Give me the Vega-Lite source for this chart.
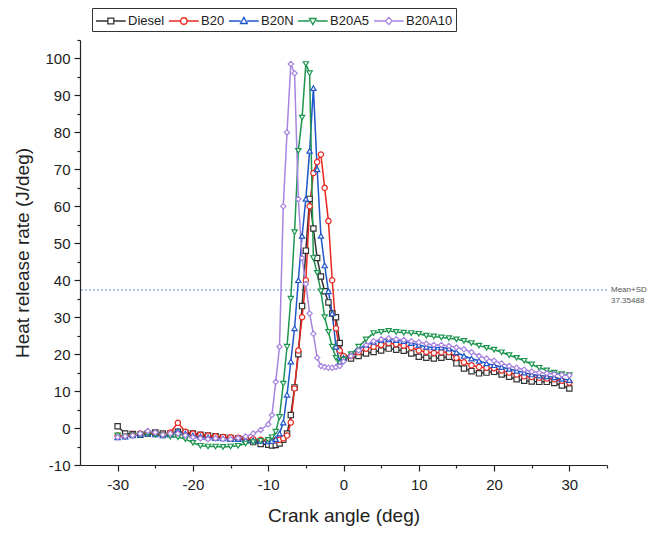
{
  "$schema": "https://vega.github.io/schema/vega-lite/v6.json",
  "width": 527,
  "height": 425,
  "autosize": "none",
  "padding": {"left": 80, "top": 40, "right": 43, "bottom": 71},
  "background": "white",
  "config": {
    "font": "Liberation Sans",
    "view": {"stroke": null},
    "axis": {"grid": false, "domainColor": "#222", "tickColor": "#222", "labelColor": "#222", "titleColor": "#222", "labelFont": "Liberation Sans", "titleFont": "Liberation Sans", "titleFontWeight": "normal", "domainWidth": 1.2, "tickWidth": 1.2},
    "point": {"filled": false, "fill": "white", "size": 28, "strokeWidth": 1.2, "opacity": 1}
  },
  "datasets": {
    "hrr": [
      {"fuel":"Diesel","angle":-30,"hrr":0.5},{"fuel":"Diesel","angle":-29,"hrr":-1.5},{"fuel":"Diesel","angle":-28,"hrr":-1.6},{"fuel":"Diesel","angle":-27,"hrr":-1.8},{"fuel":"Diesel","angle":-26,"hrr":-1.5},{"fuel":"Diesel","angle":-25,"hrr":-1.2},{"fuel":"Diesel","angle":-24,"hrr":-1.5},{"fuel":"Diesel","angle":-23,"hrr":-1.5},{"fuel":"Diesel","angle":-22,"hrr":-1.0},{"fuel":"Diesel","angle":-21,"hrr":-1.3},{"fuel":"Diesel","angle":-20,"hrr":-1.5},{"fuel":"Diesel","angle":-19,"hrr":-1.8},{"fuel":"Diesel","angle":-18,"hrr":-2.0},{"fuel":"Diesel","angle":-17,"hrr":-2.2},{"fuel":"Diesel","angle":-16,"hrr":-2.5},{"fuel":"Diesel","angle":-15,"hrr":-2.7},{"fuel":"Diesel","angle":-14,"hrr":-2.8},{"fuel":"Diesel","angle":-13,"hrr":-3.0},{"fuel":"Diesel","angle":-12,"hrr":-3.8},{"fuel":"Diesel","angle":-11,"hrr":-4.3},
      {"fuel":"Diesel","angle":-10,"hrr":-4.5},{"fuel":"Diesel","angle":-9.5,"hrr":-4.7},{"fuel":"Diesel","angle":-9,"hrr":-4.6},{"fuel":"Diesel","angle":-8.5,"hrr":-4.2},{"fuel":"Diesel","angle":-8,"hrr":-3.2},{"fuel":"Diesel","angle":-7.5,"hrr":-1.5},{"fuel":"Diesel","angle":-7,"hrr":3.5},{"fuel":"Diesel","angle":-6.5,"hrr":11},{"fuel":"Diesel","angle":-6,"hrr":20},{"fuel":"Diesel","angle":-5.5,"hrr":33},{"fuel":"Diesel","angle":-5,"hrr":48},{"fuel":"Diesel","angle":-4.5,"hrr":62},{"fuel":"Diesel","angle":-4,"hrr":54},{"fuel":"Diesel","angle":-3.5,"hrr":46},{"fuel":"Diesel","angle":-3,"hrr":41},{"fuel":"Diesel","angle":-2.5,"hrr":37},{"fuel":"Diesel","angle":-2,"hrr":34},{"fuel":"Diesel","angle":-1.5,"hrr":31},{"fuel":"Diesel","angle":-1,"hrr":30},{"fuel":"Diesel","angle":-0.5,"hrr":23},
      {"fuel":"Diesel","angle":0,"hrr":19},{"fuel":"Diesel","angle":1,"hrr":18.8},{"fuel":"Diesel","angle":2,"hrr":19.5},{"fuel":"Diesel","angle":3,"hrr":20.2},{"fuel":"Diesel","angle":4,"hrr":20.6},{"fuel":"Diesel","angle":5,"hrr":21},{"fuel":"Diesel","angle":6,"hrr":21.5},{"fuel":"Diesel","angle":7,"hrr":21.2},{"fuel":"Diesel","angle":8,"hrr":20.9},{"fuel":"Diesel","angle":9,"hrr":20.2},{"fuel":"Diesel","angle":10,"hrr":19.3},{"fuel":"Diesel","angle":11,"hrr":19},{"fuel":"Diesel","angle":12,"hrr":18.8},{"fuel":"Diesel","angle":13,"hrr":19},{"fuel":"Diesel","angle":14,"hrr":19.3},{"fuel":"Diesel","angle":15,"hrr":17.5},{"fuel":"Diesel","angle":16,"hrr":16.1},{"fuel":"Diesel","angle":17,"hrr":15.4},{"fuel":"Diesel","angle":18,"hrr":14.8},{"fuel":"Diesel","angle":19,"hrr":15},{"fuel":"Diesel","angle":20,"hrr":15.2},{"fuel":"Diesel","angle":21,"hrr":14.5},{"fuel":"Diesel","angle":22,"hrr":13.9},{"fuel":"Diesel","angle":23,"hrr":13.2},{"fuel":"Diesel","angle":24,"hrr":12.8},{"fuel":"Diesel","angle":25,"hrr":12.6},{"fuel":"Diesel","angle":26,"hrr":12.5},{"fuel":"Diesel","angle":27,"hrr":12.5},{"fuel":"Diesel","angle":28,"hrr":12.2},{"fuel":"Diesel","angle":29,"hrr":11.5},{"fuel":"Diesel","angle":30,"hrr":10.7},

      {"fuel":"B20","angle":-30,"hrr":-2.0},{"fuel":"B20","angle":-29,"hrr":-2.2},{"fuel":"B20","angle":-28,"hrr":-1.8},{"fuel":"B20","angle":-27,"hrr":-1.5},{"fuel":"B20","angle":-26,"hrr":-1.2},{"fuel":"B20","angle":-25,"hrr":-1.5},{"fuel":"B20","angle":-24,"hrr":-1.8},{"fuel":"B20","angle":-23,"hrr":-1.2},{"fuel":"B20","angle":-22,"hrr":1.4},{"fuel":"B20","angle":-21,"hrr":-1.0},{"fuel":"B20","angle":-20,"hrr":-1.5},{"fuel":"B20","angle":-19,"hrr":-1.8},{"fuel":"B20","angle":-18,"hrr":-2.0},{"fuel":"B20","angle":-17,"hrr":-2.2},{"fuel":"B20","angle":-16,"hrr":-2.4},{"fuel":"B20","angle":-15,"hrr":-2.5},{"fuel":"B20","angle":-14,"hrr":-2.6},{"fuel":"B20","angle":-13,"hrr":-2.8},{"fuel":"B20","angle":-12,"hrr":-3.0},{"fuel":"B20","angle":-11,"hrr":-3.2},
      {"fuel":"B20","angle":-10,"hrr":-3.3},{"fuel":"B20","angle":-9.5,"hrr":-3.4},{"fuel":"B20","angle":-9,"hrr":-3.3},{"fuel":"B20","angle":-8.5,"hrr":-3.2},{"fuel":"B20","angle":-8,"hrr":-2.8},{"fuel":"B20","angle":-7.5,"hrr":-2.0},{"fuel":"B20","angle":-7,"hrr":1.5},{"fuel":"B20","angle":-6.5,"hrr":10.7},{"fuel":"B20","angle":-6,"hrr":21},{"fuel":"B20","angle":-5.5,"hrr":30},{"fuel":"B20","angle":-5,"hrr":40},{"fuel":"B20","angle":-4.5,"hrr":60},{"fuel":"B20","angle":-4,"hrr":69},{"fuel":"B20","angle":-3.5,"hrr":72},{"fuel":"B20","angle":-3,"hrr":74},{"fuel":"B20","angle":-2.5,"hrr":65},{"fuel":"B20","angle":-2,"hrr":56},{"fuel":"B20","angle":-1.5,"hrr":40},{"fuel":"B20","angle":-1,"hrr":27},{"fuel":"B20","angle":-0.5,"hrr":21},
      {"fuel":"B20","angle":0,"hrr":19.5},{"fuel":"B20","angle":1,"hrr":19.5},{"fuel":"B20","angle":2,"hrr":20.5},{"fuel":"B20","angle":3,"hrr":21.5},{"fuel":"B20","angle":4,"hrr":22},{"fuel":"B20","angle":5,"hrr":22.5},{"fuel":"B20","angle":6,"hrr":23},{"fuel":"B20","angle":7,"hrr":22.7},{"fuel":"B20","angle":8,"hrr":22.3},{"fuel":"B20","angle":9,"hrr":21.8},{"fuel":"B20","angle":10,"hrr":21},{"fuel":"B20","angle":11,"hrr":20.6},{"fuel":"B20","angle":12,"hrr":20.3},{"fuel":"B20","angle":13,"hrr":20.5},{"fuel":"B20","angle":14,"hrr":20.5},{"fuel":"B20","angle":15,"hrr":19},{"fuel":"B20","angle":16,"hrr":17.8},{"fuel":"B20","angle":17,"hrr":17},{"fuel":"B20","angle":18,"hrr":16.5},{"fuel":"B20","angle":19,"hrr":16.3},{"fuel":"B20","angle":20,"hrr":16.2},{"fuel":"B20","angle":21,"hrr":15.6},{"fuel":"B20","angle":22,"hrr":15},{"fuel":"B20","angle":23,"hrr":14.5},{"fuel":"B20","angle":24,"hrr":14},{"fuel":"B20","angle":25,"hrr":13.8},{"fuel":"B20","angle":26,"hrr":13.6},{"fuel":"B20","angle":27,"hrr":13.4},{"fuel":"B20","angle":28,"hrr":13.2},{"fuel":"B20","angle":29,"hrr":12.8},{"fuel":"B20","angle":30,"hrr":12.3},

      {"fuel":"B20N","angle":-30,"hrr":-2.5},{"fuel":"B20N","angle":-29,"hrr":-2.3},{"fuel":"B20N","angle":-28,"hrr":-2.0},{"fuel":"B20N","angle":-27,"hrr":-1.8},{"fuel":"B20N","angle":-26,"hrr":-1.5},{"fuel":"B20N","angle":-25,"hrr":-1.7},{"fuel":"B20N","angle":-24,"hrr":-2.0},{"fuel":"B20N","angle":-23,"hrr":-1.8},{"fuel":"B20N","angle":-22,"hrr":-0.8},{"fuel":"B20N","angle":-21,"hrr":-1.5},{"fuel":"B20N","angle":-20,"hrr":-2.0},{"fuel":"B20N","angle":-19,"hrr":-2.3},{"fuel":"B20N","angle":-18,"hrr":-2.5},{"fuel":"B20N","angle":-17,"hrr":-2.7},{"fuel":"B20N","angle":-16,"hrr":-2.8},{"fuel":"B20N","angle":-15,"hrr":-3.0},{"fuel":"B20N","angle":-14,"hrr":-3.0},{"fuel":"B20N","angle":-13,"hrr":-3.2},{"fuel":"B20N","angle":-12,"hrr":-3.3},{"fuel":"B20N","angle":-11,"hrr":-3.5},
      {"fuel":"B20N","angle":-10,"hrr":-3.6},{"fuel":"B20N","angle":-9.5,"hrr":-3.5},{"fuel":"B20N","angle":-9,"hrr":-3.0},{"fuel":"B20N","angle":-8.5,"hrr":-1.5},{"fuel":"B20N","angle":-8,"hrr":1.5},{"fuel":"B20N","angle":-7.5,"hrr":9},{"fuel":"B20N","angle":-7,"hrr":18},{"fuel":"B20N","angle":-6.5,"hrr":27},{"fuel":"B20N","angle":-6,"hrr":40},{"fuel":"B20N","angle":-5.5,"hrr":52},{"fuel":"B20N","angle":-5,"hrr":62},{"fuel":"B20N","angle":-4.5,"hrr":75},{"fuel":"B20N","angle":-4,"hrr":92},{"fuel":"B20N","angle":-3.5,"hrr":70},{"fuel":"B20N","angle":-3,"hrr":52},{"fuel":"B20N","angle":-2.5,"hrr":44},{"fuel":"B20N","angle":-2,"hrr":37},{"fuel":"B20N","angle":-1.5,"hrr":31},{"fuel":"B20N","angle":-1,"hrr":22},{"fuel":"B20N","angle":-0.5,"hrr":18},
      {"fuel":"B20N","angle":0,"hrr":19},{"fuel":"B20N","angle":1,"hrr":20},{"fuel":"B20N","angle":2,"hrr":21.5},{"fuel":"B20N","angle":3,"hrr":22.5},{"fuel":"B20N","angle":4,"hrr":23.3},{"fuel":"B20N","angle":5,"hrr":23.8},{"fuel":"B20N","angle":6,"hrr":24},{"fuel":"B20N","angle":7,"hrr":23.8},{"fuel":"B20N","angle":8,"hrr":23.5},{"fuel":"B20N","angle":9,"hrr":23},{"fuel":"B20N","angle":10,"hrr":22.5},{"fuel":"B20N","angle":11,"hrr":22},{"fuel":"B20N","angle":12,"hrr":21.8},{"fuel":"B20N","angle":13,"hrr":21.8},{"fuel":"B20N","angle":14,"hrr":21.5},{"fuel":"B20N","angle":15,"hrr":20.5},{"fuel":"B20N","angle":16,"hrr":19.5},{"fuel":"B20N","angle":17,"hrr":18.8},{"fuel":"B20N","angle":18,"hrr":18.2},{"fuel":"B20N","angle":19,"hrr":17.5},{"fuel":"B20N","angle":20,"hrr":17},{"fuel":"B20N","angle":21,"hrr":16.5},{"fuel":"B20N","angle":22,"hrr":16},{"fuel":"B20N","angle":23,"hrr":15.5},{"fuel":"B20N","angle":24,"hrr":15},{"fuel":"B20N","angle":25,"hrr":14.5},{"fuel":"B20N","angle":26,"hrr":14.2},{"fuel":"B20N","angle":27,"hrr":14},{"fuel":"B20N","angle":28,"hrr":13.7},{"fuel":"B20N","angle":29,"hrr":13.3},{"fuel":"B20N","angle":30,"hrr":13},

      {"fuel":"B20A5","angle":-30,"hrr":-2.0},{"fuel":"B20A5","angle":-29,"hrr":-2.3},{"fuel":"B20A5","angle":-28,"hrr":-2.0},{"fuel":"B20A5","angle":-27,"hrr":-1.8},{"fuel":"B20A5","angle":-26,"hrr":-1.5},{"fuel":"B20A5","angle":-25,"hrr":-1.8},{"fuel":"B20A5","angle":-24,"hrr":-2.0},{"fuel":"B20A5","angle":-23,"hrr":-2.3},{"fuel":"B20A5","angle":-22,"hrr":-2.5},{"fuel":"B20A5","angle":-21,"hrr":-3.0},{"fuel":"B20A5","angle":-20,"hrr":-4.0},{"fuel":"B20A5","angle":-19,"hrr":-4.8},{"fuel":"B20A5","angle":-18,"hrr":-5.0},{"fuel":"B20A5","angle":-17,"hrr":-5.0},{"fuel":"B20A5","angle":-16,"hrr":-5.1},{"fuel":"B20A5","angle":-15,"hrr":-5.0},{"fuel":"B20A5","angle":-14,"hrr":-4.8},{"fuel":"B20A5","angle":-13,"hrr":-4.2},{"fuel":"B20A5","angle":-12,"hrr":-3.8},{"fuel":"B20A5","angle":-11,"hrr":-3.5},
      {"fuel":"B20A5","angle":-10,"hrr":-3.2},{"fuel":"B20A5","angle":-9.5,"hrr":-2.5},{"fuel":"B20A5","angle":-9,"hrr":-1.0},{"fuel":"B20A5","angle":-8.5,"hrr":3},{"fuel":"B20A5","angle":-8,"hrr":12},{"fuel":"B20A5","angle":-7.5,"hrr":22},{"fuel":"B20A5","angle":-7,"hrr":35},{"fuel":"B20A5","angle":-6.5,"hrr":53},{"fuel":"B20A5","angle":-6,"hrr":75},{"fuel":"B20A5","angle":-5.5,"hrr":84},{"fuel":"B20A5","angle":-5,"hrr":98.5},{"fuel":"B20A5","angle":-4.5,"hrr":96},{"fuel":"B20A5","angle":-4,"hrr":46},{"fuel":"B20A5","angle":-3.5,"hrr":42},{"fuel":"B20A5","angle":-3,"hrr":37},{"fuel":"B20A5","angle":-2.5,"hrr":30},{"fuel":"B20A5","angle":-2,"hrr":26},{"fuel":"B20A5","angle":-1.5,"hrr":22},{"fuel":"B20A5","angle":-1,"hrr":19},{"fuel":"B20A5","angle":-0.5,"hrr":17.5},
      {"fuel":"B20A5","angle":0,"hrr":18.5},{"fuel":"B20A5","angle":1,"hrr":20},{"fuel":"B20A5","angle":2,"hrr":22},{"fuel":"B20A5","angle":3,"hrr":24},{"fuel":"B20A5","angle":4,"hrr":25.7},{"fuel":"B20A5","angle":5,"hrr":26},{"fuel":"B20A5","angle":6,"hrr":26.3},{"fuel":"B20A5","angle":7,"hrr":26},{"fuel":"B20A5","angle":8,"hrr":25.8},{"fuel":"B20A5","angle":9,"hrr":25.7},{"fuel":"B20A5","angle":10,"hrr":25.5},{"fuel":"B20A5","angle":11,"hrr":25},{"fuel":"B20A5","angle":12,"hrr":24.8},{"fuel":"B20A5","angle":13,"hrr":24.5},{"fuel":"B20A5","angle":14,"hrr":24.3},{"fuel":"B20A5","angle":15,"hrr":24},{"fuel":"B20A5","angle":16,"hrr":23.6},{"fuel":"B20A5","angle":17,"hrr":23},{"fuel":"B20A5","angle":18,"hrr":22.3},{"fuel":"B20A5","angle":19,"hrr":21.7},{"fuel":"B20A5","angle":20,"hrr":21.2},{"fuel":"B20A5","angle":21,"hrr":20.5},{"fuel":"B20A5","angle":22,"hrr":19.7},{"fuel":"B20A5","angle":23,"hrr":19},{"fuel":"B20A5","angle":24,"hrr":18.2},{"fuel":"B20A5","angle":25,"hrr":17.2},{"fuel":"B20A5","angle":26,"hrr":16.3},{"fuel":"B20A5","angle":27,"hrr":15.6},{"fuel":"B20A5","angle":28,"hrr":15},{"fuel":"B20A5","angle":29,"hrr":14.6},{"fuel":"B20A5","angle":30,"hrr":14.3},

      {"fuel":"B20A10","angle":-30,"hrr":-2.5},{"fuel":"B20A10","angle":-29,"hrr":-2.2},{"fuel":"B20A10","angle":-28,"hrr":-2.0},{"fuel":"B20A10","angle":-27,"hrr":-1.5},{"fuel":"B20A10","angle":-26,"hrr":-0.8},{"fuel":"B20A10","angle":-25,"hrr":-1.2},{"fuel":"B20A10","angle":-24,"hrr":-1.8},{"fuel":"B20A10","angle":-23,"hrr":-1.5},{"fuel":"B20A10","angle":-22,"hrr":-1.5},{"fuel":"B20A10","angle":-21,"hrr":-2.0},{"fuel":"B20A10","angle":-20,"hrr":-2.5},{"fuel":"B20A10","angle":-19,"hrr":-2.8},{"fuel":"B20A10","angle":-18,"hrr":-3.0},{"fuel":"B20A10","angle":-17,"hrr":-2.8},{"fuel":"B20A10","angle":-16,"hrr":-3.0},{"fuel":"B20A10","angle":-15,"hrr":-3.0},{"fuel":"B20A10","angle":-14,"hrr":-2.7},{"fuel":"B20A10","angle":-13,"hrr":-2.3},{"fuel":"B20A10","angle":-12,"hrr":-1.5},{"fuel":"B20A10","angle":-11,"hrr":-0.5},
      {"fuel":"B20A10","angle":-10,"hrr":1.0},{"fuel":"B20A10","angle":-9.5,"hrr":3.5},{"fuel":"B20A10","angle":-9,"hrr":12.5},{"fuel":"B20A10","angle":-8.5,"hrr":22},{"fuel":"B20A10","angle":-8,"hrr":60},{"fuel":"B20A10","angle":-7.5,"hrr":80},{"fuel":"B20A10","angle":-7,"hrr":98.5},{"fuel":"B20A10","angle":-6.5,"hrr":96},{"fuel":"B20A10","angle":-6,"hrr":62},{"fuel":"B20A10","angle":-5.5,"hrr":46},{"fuel":"B20A10","angle":-5,"hrr":39},{"fuel":"B20A10","angle":-4.5,"hrr":31},{"fuel":"B20A10","angle":-4,"hrr":25.5},{"fuel":"B20A10","angle":-3.5,"hrr":19},{"fuel":"B20A10","angle":-3,"hrr":16.8},{"fuel":"B20A10","angle":-2.5,"hrr":16.5},{"fuel":"B20A10","angle":-2,"hrr":16.3},{"fuel":"B20A10","angle":-1.5,"hrr":16.3},{"fuel":"B20A10","angle":-1,"hrr":16.5},{"fuel":"B20A10","angle":-0.5,"hrr":16.8},
      {"fuel":"B20A10","angle":0,"hrr":18},{"fuel":"B20A10","angle":1,"hrr":19.5},{"fuel":"B20A10","angle":2,"hrr":21},{"fuel":"B20A10","angle":3,"hrr":22.5},{"fuel":"B20A10","angle":4,"hrr":23.5},{"fuel":"B20A10","angle":5,"hrr":24},{"fuel":"B20A10","angle":6,"hrr":24.3},{"fuel":"B20A10","angle":7,"hrr":24},{"fuel":"B20A10","angle":8,"hrr":23.8},{"fuel":"B20A10","angle":9,"hrr":23.5},{"fuel":"B20A10","angle":10,"hrr":23.2},{"fuel":"B20A10","angle":11,"hrr":22.8},{"fuel":"B20A10","angle":12,"hrr":22.5},{"fuel":"B20A10","angle":13,"hrr":22.5},{"fuel":"B20A10","angle":14,"hrr":22.2},{"fuel":"B20A10","angle":15,"hrr":21.8},{"fuel":"B20A10","angle":16,"hrr":21.3},{"fuel":"B20A10","angle":17,"hrr":20.5},{"fuel":"B20A10","angle":18,"hrr":19.5},{"fuel":"B20A10","angle":19,"hrr":18.8},{"fuel":"B20A10","angle":20,"hrr":18.2},{"fuel":"B20A10","angle":21,"hrr":17.5},{"fuel":"B20A10","angle":22,"hrr":16.8},{"fuel":"B20A10","angle":23,"hrr":16.3},{"fuel":"B20A10","angle":24,"hrr":15.8},{"fuel":"B20A10","angle":25,"hrr":15.3},{"fuel":"B20A10","angle":26,"hrr":15},{"fuel":"B20A10","angle":27,"hrr":14.8},{"fuel":"B20A10","angle":28,"hrr":14.6},{"fuel":"B20A10","angle":29,"hrr":14.4},{"fuel":"B20A10","angle":30,"hrr":14.3}
    ],
    "ref": [{"value": 37.35488, "label": "Mean+SD\n37.35488"}]
  },
  "resolve": {"axis": {"x": "independent", "y": "independent"}},
  "layer": [
    {
      "data": {"name": "ref"},
      "mark": {"type": "rule", "color": "#5b8fd6", "strokeWidth": 1, "strokeDash": [2, 2]},
      "encoding": {
        "y": {"field": "value", "type": "quantitative", "scale": {"domain": [-10, 105], "nice": false, "zero": false},
              "axis": {"orient": "left", "values": [-5, 5, 15, 25, 35, 45, 55, 65, 75, 85, 95, 105], "labels": false, "domain": false, "tickSize": 3, "title": null}}
      }
    },
    {
      "data": {"name": "ref"},
      "mark": {"type": "text", "align": "left", "baseline": "middle", "dx": 4, "fontSize": 8, "color": "#555", "lineBreak": "\n", "lineHeight": 11},
      "encoding": {
        "x": {"datum": 35, "type": "quantitative", "scale": {"domain": [-35, 35], "nice": false},
              "axis": {"orient": "bottom", "values": [-25, -15, -5, 5, 15, 25, 35], "labels": false, "domain": false, "tickSize": 3, "title": null}},
        "y": {"field": "value", "type": "quantitative", "axis": null},
        "text": {"field": "label"}
      }
    },
    {
      "data": {"name": "hrr"},
      "mark": {"type": "line", "strokeWidth": 1.5},
      "encoding": {
        "x": {"field": "angle", "type": "quantitative", "scale": {"domain": [-35, 35], "nice": false},
              "axis": {"orient": "bottom", "title": "Crank angle (deg)", "values": [-30, -20, -10, 0, 10, 20, 30], "labelExpr": "'' + datum.value", "tickSize": 6, "labelPadding": 6, "labelFontSize": 15, "titleFontSize": 19, "titlePadding": 14}},
        "y": {"field": "hrr", "type": "quantitative", "scale": {"domain": [-10, 105], "nice": false, "zero": false},
              "axis": {"orient": "left", "title": "Heat release rate (J/deg)", "values": [-10, 0, 10, 20, 30, 40, 50, 60, 70, 80, 90, 100], "labelExpr": "'' + datum.value", "tickSize": 6, "labelPadding": 4, "labelFontSize": 15, "titleFontSize": 19, "titlePadding": 12}},
        "color": {"field": "fuel", "type": "nominal",
                  "scale": {"domain": ["Diesel", "B20", "B20N", "B20A5", "B20A10"], "range": ["#333333", "#e8271f", "#1f56c8", "#1e9650", "#a884e0"]},
                  "legend": {"title": null, "orient": "none", "legendX": 12, "legendY": -32, "direction": "horizontal", "columns": 5,
                             "strokeColor": "#333", "fillColor": "white", "padding": 3, "labelFontSize": 13, "labelColor": "#222",
                             "symbolSize": 324, "symbolStrokeWidth": 1.3, "columnPadding": 1, "labelOffset": 13,
                             "encode": {"symbols": {"update": {
                               "fill": {"value": "white"},
                               "shape": {"signal": "datum.value === 'Diesel' ? 'M-1,0H0.32M0.98,0H2.3M0.32,-0.33H0.98V0.33H0.32Z' : datum.value === 'B20' ? 'M-1,0H0.29M1.01,0H2.3M0.29,0A0.36,0.36,0,1,0,1.01,0A0.36,0.36,0,1,0,0.29,0Z' : datum.value === 'B20N' ? 'M-1,0H0.29M1.01,0H2.3M0.65,-0.4L1.03,0.28H0.27Z' : datum.value === 'B20A5' ? 'M-1,0H0.29M1.01,0H2.3M0.65,0.4L1.03,-0.28H0.27Z' : 'M-1,0H0.27M1.03,0H2.3M0.65,-0.4L1.03,0L0.65,0.4L0.27,0Z'"}
                             }}}}},
        "detail": {"field": "fuel"}
      }
    },
    {
      "data": {"name": "hrr"},
      "transform": [{"filter": {"field": "fuel", "equal": "Diesel"}}],
      "mark": {"type": "point", "shape": "square"},
      "encoding": {"x": {"field": "angle", "type": "quantitative", "axis": null}, "y": {"field": "hrr", "type": "quantitative", "axis": null}, "color": {"field": "fuel", "type": "nominal"}}
    },
    {
      "data": {"name": "hrr"},
      "transform": [{"filter": {"field": "fuel", "equal": "B20"}}],
      "mark": {"type": "point", "shape": "circle"},
      "encoding": {"x": {"field": "angle", "type": "quantitative", "axis": null}, "y": {"field": "hrr", "type": "quantitative", "axis": null}, "color": {"field": "fuel", "type": "nominal"}}
    },
    {
      "data": {"name": "hrr"},
      "transform": [{"filter": {"field": "fuel", "equal": "B20N"}}],
      "mark": {"type": "point", "shape": "triangle-up"},
      "encoding": {"x": {"field": "angle", "type": "quantitative", "axis": null}, "y": {"field": "hrr", "type": "quantitative", "axis": null}, "color": {"field": "fuel", "type": "nominal"}}
    },
    {
      "data": {"name": "hrr"},
      "transform": [{"filter": {"field": "fuel", "equal": "B20A5"}}],
      "mark": {"type": "point", "shape": "triangle-down"},
      "encoding": {"x": {"field": "angle", "type": "quantitative", "axis": null}, "y": {"field": "hrr", "type": "quantitative", "axis": null}, "color": {"field": "fuel", "type": "nominal"}}
    },
    {
      "data": {"name": "hrr"},
      "transform": [{"filter": {"field": "fuel", "equal": "B20A10"}}],
      "mark": {"type": "point", "shape": "diamond"},
      "encoding": {"x": {"field": "angle", "type": "quantitative", "axis": null}, "y": {"field": "hrr", "type": "quantitative", "axis": null}, "color": {"field": "fuel", "type": "nominal"}}
    }
  ]
}
